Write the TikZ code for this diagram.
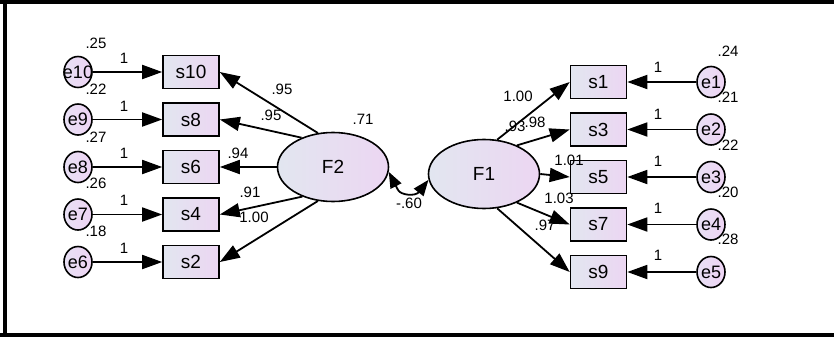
\documentclass[tikz,border=0pt]{standalone}
\usepackage{fontspec}
\setmainfont{Liberation Sans}
\usepackage{tikz}
\usetikzlibrary{shapes.geometric, arrows.meta}
\usetikzlibrary{positioning}
\definecolor{boxleft}{RGB}{226,230,240}
\definecolor{boxright}{RGB}{236,214,242}
\definecolor{errleft}{RGB}{232,224,244}
\definecolor{errright}{RGB}{238,212,244}
\newcommand{\ename}[1]{\makebox[0pt]{#1}}
\tikzstyle{item} = [rectangle, minimum width=56pt, minimum height=33pt, inner sep=0pt, draw=black, line width=1.6pt, left color=boxleft, right color=boxright, font=\fontsize{19}{21}\selectfont]
\tikzstyle{latent} = [ellipse, minimum width=111pt, minimum height=69pt, inner sep=0pt, draw=black, line width=1.6pt, left color=boxleft, right color=boxright, font=\fontsize{19}{21}\selectfont]
\tikzstyle{error} = [ellipse, minimum width=28pt, minimum height=31pt, inner sep=0pt, draw=black, line width=1.6pt, left color=errleft, right color=errright, font=\fontsize{18}{20}\selectfont]
\tikzstyle{est} = [inner sep=0pt, font=\fontsize{15}{17}\selectfont]
\tikzstyle{arrow} = [line width=1.8pt, -{Triangle[length=20pt, width=14pt]}]
\tikzstyle{covtip} = [line width=1.8pt, -{Triangle[length=16pt, width=12pt]}]
\tikzstyle{cov} = [line width=1.8pt]

\begin{document}
\begin{tikzpicture}[x=1pt, y=-1pt, node distance=47.5pt]

        \useasboundingbox (0,0) rectangle (834,337);

        % Frame
        \draw [line width=4pt] (0,2) -- (834,2);
        \draw [line width=4pt] (5,0) -- (5,337);
        \draw [line width=4pt] (0,335) -- (834,335);

        % Factors
        \node (F2) [latent] at (333,167) {F2};
        \node (F1) [latent] at (484,174) {F1};

        % Items of F2
        \node (s10) [item] at (191,72) {s10};
        \node (s8) [item, below of=s10] {s8};
        \node (s6) [item, below of=s8] {s6};
        \node (s4) [item, below of=s6] {s4};
        \node (s2) [item, below of=s4] {s2};

        % Items of F1
        \node (s1) [item] at (598.5,82) {s1};
        \node (s3) [item, below of=s1] {s3};
        \node (s5) [item, below of=s3] {s5};
        \node (s7) [item, below of=s5] {s7};
        \node (s9) [item, below of=s7] {s9};

        % Errors
        \node (e10) [error, left of=s10, node distance=113pt] {\ename{e10}};
        \node (e9) [error, below of=e10] {\ename{e9}};
        \node (e8) [error, below of=e9] {\ename{e8}};
        \node (e7) [error, below of=e8] {\ename{e7}};
        \node (e6) [error, below of=e7] {\ename{e6}};
        \node (e1) [error, right of=s1, node distance=112.5pt] {\ename{e1}};
        \node (e2) [error, below of=e1] {\ename{e2}};
        \node (e3) [error, below of=e2] {\ename{e3}};
        \node (e4) [error, below of=e3] {\ename{e4}};
        \node (e5) [error, below of=e4] {\ename{e5}};

        % Arrows
        \draw [arrow] (e10) -- (s10);
        \draw [arrow] (e9) -- (s8);
        \draw [arrow] (e8) -- (s6);
        \draw [arrow] (e7) -- (s4);
        \draw [arrow] (e6) -- (s2);
        \draw [arrow] (e1) -- (s1);
        \draw [arrow] (e2) -- (s3);
        \draw [arrow] (e3) -- (s5);
        \draw [arrow] (e4) -- (s7);
        \draw [arrow] (e5) -- (s9);
        \draw [arrow] (F2.114) -- (s10.east);
        \draw [arrow] (F2.137) -- (s8.east);
        \draw [arrow] (F2.180) -- (s6.east);
        \draw [arrow] (F2.224) -- (s4.east);
        \draw [arrow] (F2.246) -- (s2.east);
        \draw [arrow] (F1.69) -- (s1.west);
        \draw [arrow] (F1.41) -- (s3.west);
        \draw [arrow] (F1.0) -- (s5.west);
        \draw [arrow] (F1.-41) -- (s7.west);
        \draw [arrow] (F1.-69) -- (s9.west);

        % Covariance
        \coordinate (covL) at (398,190);
        \coordinate (covR) at (419,192);
        \draw [cov] (covL) .. controls +(3,5.4) and +(-3.5,4.5) .. (covR);
        \draw [covtip] (covL) -- (F2.-5);
        \draw [covtip] (covR) -- (F1.186);

        % Estimates
        \node (v10) [est] at (96,43) {.25};
        \node (v9) [est] at (96,89) {.22};
        \node (v8) [est] at (96,137) {.27};
        \node (v7) [est] at (96,183) {.26};
        \node (v6) [est] at (96,231) {.18};
        \node (w10) [est] at (124,58) {1};
        \node (w9) [est] at (124,106) {1};
        \node (w8) [est] at (124,153) {1};
        \node (w7) [est] at (124,200) {1};
        \node (w6) [est] at (124,248) {1};
        \node (v1) [est] at (728,51) {.24};
        \node (v2) [est] at (728,97) {.21};
        \node (v3) [est] at (728,145) {.22};
        \node (v4) [est] at (728,192) {.20};
        \node (v5) [est] at (728,239) {.28};
        \node (w1) [est] at (658,67) {1};
        \node (w2) [est] at (658,114) {1};
        \node (w3) [est] at (658,161) {1};
        \node (w4) [est] at (658,208) {1};
        \node (w5) [est] at (658,255) {1};
        \node (l10) [est] at (282,89) {.95};
        \node (l8) [est] at (271,115) {.95};
        \node (l6) [est] at (238,153) {.94};
        \node (l4) [est] at (250,192) {.91};
        \node (l2) [est] at (254,217) {1.00};
        \node (vF2) [est] at (363,119) {.71};
        \node (l1) [est] at (518,96) {1.00};
        \node (l3a) [est] at (515,126) {.93};
        \node (l3b) [est] at (535,122) {.98};
        \node (l5) [est] at (569,160) {1.01};
        \node (l7) [est] at (559,198) {1.03};
        \node (l9) [est] at (545,225) {.97};
        \node (r12) [est] at (409,203) {-.60};

    \end{tikzpicture}
\end{document}
